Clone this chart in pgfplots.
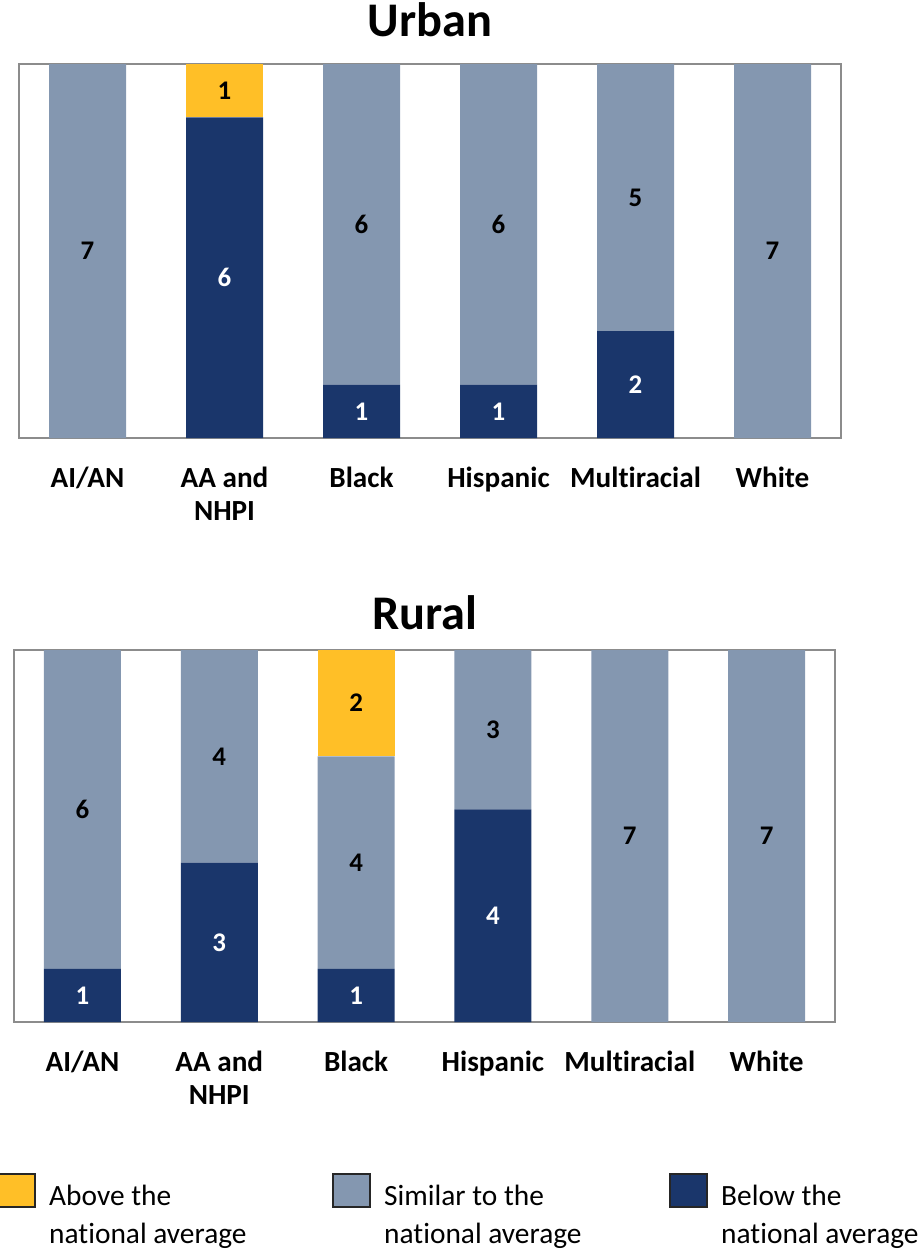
\documentclass[border=0pt]{standalone}
\usepackage{pgfplots}
\pgfplotsset{compat=1.18}
\usepackage{fontspec}
\setmainfont{Carlito}[Ligatures={NoCommon,NoContextual,NoRare}]

\definecolor{above}{HTML}{FFBF27}
\definecolor{similar}{HTML}{8497B0}
\definecolor{below}{HTML}{1A366B}
\definecolor{frame}{HTML}{8C8C8C}

\pgfplotsset{
  stackbase/.style={
    ybar stacked, bar width=77bp,
    scale only axis,
    xmin=-0.5, xmax=5.5, ymin=0, ymax=7,
    axis line style={frame, line width=1.6bp},
    ytick=\empty,
    xtick={0,...,5},
    xticklabels={AI/AN, {AA and\\NHPI}, Black, Hispanic, Multiracial, White},
    xticklabel style={font=\fontsize{29.3}{34}\selectfont\bfseries, align=center, anchor=north, yshift=-25bp},
    major tick length=0pt,
    title style={font=\fontsize{48.5}{56}\selectfont\bfseries, anchor=base, at={(0.5,1)}},
  },
  labels/.style={
    scale only axis, hide axis,
    xmin=-0.5, xmax=5.5, ymin=0, ymax=7,
    nodes near coords, point meta=explicit symbolic,
    every node near coord/.append style={anchor=center, font=\fontsize{27}{30}\selectfont\bfseries},
  },
}

\begin{document}
\begin{tikzpicture}
\useasboundingbox (0,-1252bp) rectangle (924bp,0);

% Urban
\begin{axis}[stackbase, at={(19bp,-438bp)}, anchor=south west, width=822bp, height=374bp,
  title={Urban}, title style={yshift=21.5bp}]
\addplot[fill=below, draw=none] coordinates {(0,0) (1,6) (2,1) (3,1) (4,2) (5,0)};
\addplot[fill=similar, draw=none] coordinates {(0,7) (1,0) (2,6) (3,6) (4,5) (5,7)};
\addplot[fill=above, draw=none] coordinates {(0,0) (1,1) (2,0) (3,0) (4,0) (5,0)};
\end{axis}
\begin{axis}[labels, at={(19bp,-438bp)}, anchor=south west, width=822bp, height=374bp]
\addplot[only marks, mark=none, every node near coord/.append style={text=white}]
  coordinates {(1,3) [6] (2,0.5) [1] (3,0.5) [1] (4,1) [2]};
\addplot[only marks, mark=none, every node near coord/.append style={text=black}]
  coordinates {(0,3.5) [7] (2,4) [6] (3,4) [6] (4,4.5) [5] (5,3.5) [7] (1,6.5) [1]};
\end{axis}

% Rural
\begin{axis}[stackbase, at={(14bp,-1022bp)}, anchor=south west, width=821bp, height=372bp,
  title={Rural}, title style={yshift=15bp}]
\addplot[fill=below, draw=none] coordinates {(0,1) (1,3) (2,1) (3,4) (4,0) (5,0)};
\addplot[fill=similar, draw=none] coordinates {(0,6) (1,4) (2,4) (3,3) (4,7) (5,7)};
\addplot[fill=above, draw=none] coordinates {(0,0) (1,0) (2,2) (3,0) (4,0) (5,0)};
\end{axis}
\begin{axis}[labels, at={(14bp,-1022bp)}, anchor=south west, width=821bp, height=372bp]
\addplot[only marks, mark=none, every node near coord/.append style={text=white}]
  coordinates {(0,0.5) [1] (1,1.5) [3] (2,0.5) [1] (3,2) [4]};
\addplot[only marks, mark=none, every node near coord/.append style={text=black}]
  coordinates {(0,4) [6] (1,5) [4] (2,3) [4] (3,5.5) [3] (4,3.5) [7] (5,3.5) [7] (2,6) [2]};
\end{axis}

% legend
\foreach \bx/\c/\t in {-2/above/Above the, 333/similar/Similar to the, 670/below/Below the} {
  \draw[fill=\c, draw=black!85, line width=1.3bp] (\bx bp,-1207bp) rectangle ++(37bp,33bp);
  \node[anchor=base west, inner sep=0, font=\fontsize{29.5}{34}\selectfont] at (\bx bp+51bp,-1205bp) {\t};
  \node[anchor=base west, inner sep=0, font=\fontsize{29.5}{34}\selectfont] at (\bx bp+51bp,-1243bp) {national average};
}
\end{tikzpicture}
\end{document}
